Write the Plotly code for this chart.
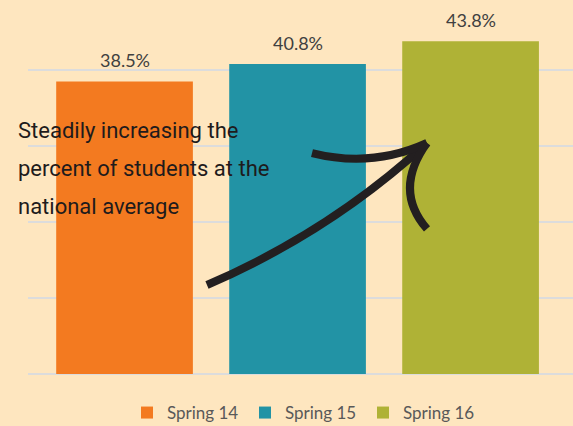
import plotly.graph_objects as go

categories = ["Spring 14", "Spring 15", "Spring 16"]
values = [38.5, 40.8, 43.8]
colors = ["#F37A20", "#2293A5", "#AFB236"]
value_labels = ["38.5%", "40.8%", "43.8%"]
note_lines = ["Steadily increasing the", "percent of students at the", "national average"]

W, H = 573, 426
ML, MR, MT, MB = 28, 0, 10, 52
BG = "#FEE6BF"
PW, PH = W - ML - MR, H - MT - MB

def px_x(x):
    return (x - ML) / PW

def px_y(y):
    return (H - MB - y) / PH

def px_path(cmds):
    out = []
    for c in cmds:
        if isinstance(c, str):
            out.append(c)
        else:
            out.append(f"{px_x(c[0]):.4f},{px_y(c[1]):.4f}")
    return " ".join(out)

fig = go.Figure()
for cat, val, col in zip(categories, values, colors):
    fig.add_trace(go.Bar(
        x=[cat], y=[val], name=cat, marker=dict(color=col, line=dict(width=0)),
        width=0.79, offset=-0.395,
    ))

for cat, val, lab in zip(categories, values, value_labels):
    fig.add_annotation(x=cat, y=val, text=lab, showarrow=False, yanchor="bottom",
                       yshift=8, font=dict(family="Lato, Open Sans, sans-serif", size=18, color="#404040"))

for i, line in enumerate(note_lines):
    fig.add_annotation(xref="paper", yref="paper", x=px_x(16), y=px_y(130 + 38 * i),
                       xanchor="left", yanchor="middle", align="left", showarrow=False,
                       text=line,
                       font=dict(family="Roboto, sans-serif", size=22, color="#1E1B1C"))

arrow_style = dict(type="path", xref="paper", yref="paper",
                   line=dict(color="#231F20", width=8), layer="above")
fig.add_shape(path=px_path(["M", (207, 285), "Q", (330, 232), (427, 143)]), **arrow_style)
fig.add_shape(path=px_path(["M", (312, 153), "Q", (372, 168), (427, 143)]), **arrow_style)
fig.add_shape(path=px_path(["M", (427, 143), "Q", (393, 190), (427, 229)]), **arrow_style)

fig.update_layout(
    width=W, height=H,
    margin=dict(l=ML, r=MR, t=MT, b=MB, autoexpand=False),
    paper_bgcolor=BG, plot_bgcolor=BG,
    showlegend=True,
    legend=dict(orientation="h", x=px_x(127), xanchor="left", y=px_y(413), yanchor="middle",
                font=dict(family="Lato, Open Sans, sans-serif", size=17, color="#595959"),
                entrywidth=73, entrywidthmode="pixels", itemwidth=30, bgcolor="rgba(0,0,0,0)"),
    bargap=0.21,
    xaxis=dict(range=[-0.558, 2.592], showticklabels=False, showgrid=False, zeroline=False,
               showline=False, ticks=""),
    yaxis=dict(range=[0, 47.9], dtick=10, showticklabels=False, showgrid=True,
               gridcolor="#DCDCDC", gridwidth=1.5, zeroline=True, zerolinecolor="#DCDCDC",
               zerolinewidth=1.5, showline=False, ticks=""),
)

fig.write_html("out.html", config={"displayModeBar": False},
               post_script="document.body.style.margin='0';document.body.style.background='" + BG + "';")
